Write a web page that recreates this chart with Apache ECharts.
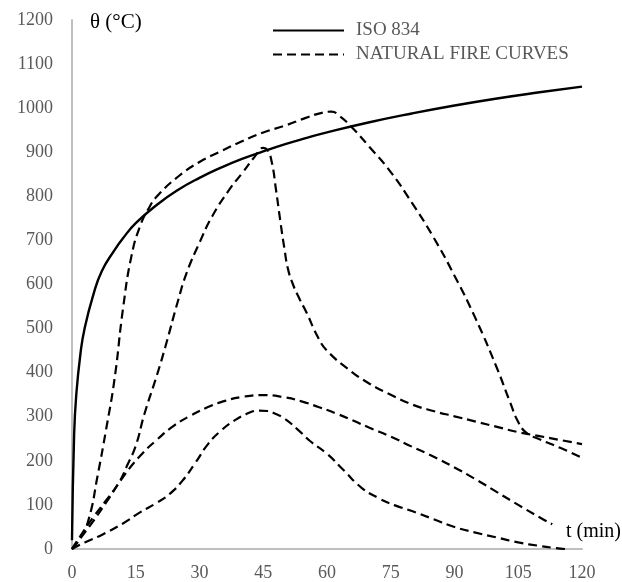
<!DOCTYPE html>
<html>
<head>
<meta charset="utf-8">
<script src="https://cdn.jsdelivr.net/npm/echarts@6/dist/echarts.min.js"></script>
<style>
  html, body { margin: 0; padding: 0; background: #fff; }
  #main { width: 622px; height: 582px; }
</style>
</head>
<body>
<div id="main"></div>
<script>
// t (min), theta (°C) pairs
var isoCurve = [[0,20],[0.5,260],[1,349],[2,444],[3,502],[5,576],[7,630],[10,678],[12,705],[15,739],
    [20,781],[25,815],[30,842],[35,865],[40,885],[45,902],[50,918],[55,932],[60,945],[70,968],
    [80,988],[90,1006],[100,1022],[110,1036],[120,1049]];

var fire1 = [[0,0],[2,25],[4,70],[6,165],[8,270],[10,385],[12,545],[14,665],[16,732],[18,772],
    [20,800],[25,845],[30,878],[35,902],[40,925],[45,945],[50,960],[55,978],[59,990],[61,992],
    [63,982],[66,955],[70,912],[75,855],[80,785],[85,708],[90,620],[95,522],[100,410],[103,335],
    [105,288],[107,263],[110,249],[115,229],[120,207]];

var fire2 = [[0,0],[2,30],[5,72],[8,110],[11,150],[13,190],[15,234],[17,305],[20,395],[22,460],
    [25,565],[27,627],[30,695],[33,755],[37,815],[40,852],[43,890],[45,910],[46,905],[47,878],
    [48,815],[49,745],[50,680],[50.8,636],[52,600],[53.6,566],[55,540],[58,478],[60,450],[65,408],
    [70,375],[75,350],[80,328],[85,313],[90,301],[95,289],[100,277],[105,265],[110,256],[115,247],
    [120,238]];

var fire3 = [[0,0],[4,50],[8,105],[12,163],[16,211],[20,248],[24,280],[28,303],[32,322],[36,336],
    [40,345],[45,349],[50,344],[54,335],[58,322],[62,308],[66,292],[70,275],[75,255],[80,232],
    [85,210],[90,185],[95,158],[100,129],[105,100],[110,72],[113,56]];

var fire4 = [[0,0],[3,15],[7,32],[12,58],[16,83],[20,105],[23,125],[26,155],[29,195],[32,238],
    [35,268],[38,290],[41,306],[44,314],[46,313],[48,306],[50,296],[53,272],[56,245],[60,216],
    [64,178],[68,140],[72,116],[76,99],[80,86],[85,68],[90,50],[95,37],[100,26],[105,15],
    [110,7],[113,3],[116,0]];

var seriesNames = ['ISO 834', 'NATURAL FIRE CURVES'];

var dom = document.getElementById('main');
var myChart = echarts.init(dom);

var labelFont = {fontFamily: 'Liberation Serif', fontSize: 18, color: '#595959'};
var dashStyle = {color: '#000', width: 2.2, type: [9, 5]};

function fireSeries(d) {
    return {
        name: seriesNames[1],
        type: 'line',
        data: d,
        symbol: 'none',
        smooth: 0.5,
        lineStyle: dashStyle,
        itemStyle: {color: '#000'},
        z: 3
    };
}

var option = {
    animation: false,
    backgroundColor: '#fff',
    title: [
        {
            text: 'θ (°C)',
            left: 85,
            top: 7,
            textStyle: {fontFamily: 'Liberation Serif', fontSize: 21, fontWeight: 'normal', color: '#000'}
        },
        {
            text: 't (min)',
            left: 561,
            top: 517,
            textStyle: {fontFamily: 'Liberation Serif', fontSize: 20, fontWeight: 'normal', color: '#000'}
        }
    ],
    legend: {
        data: seriesNames,
        orient: 'vertical',
        left: 272,
        top: 21,
        padding: 0,
        itemWidth: 71,
        itemHeight: 14,
        itemGap: 5,
        itemStyle: {opacity: 0},
        textStyle: {fontFamily: 'Liberation Serif', fontSize: 19, lineHeight: 19, color: '#595959', padding: [0, 0, 0, 7]}
    },
    grid: {
        left: 72,
        right: 40,
        top: 20,
        bottom: 32
    },
    xAxis: {
        type: 'value',
        min: 0,
        max: 120,
        interval: 15,
        axisLine: {show: true, lineStyle: {color: '#bfbfbf', width: 2}},
        axisTick: {show: false},
        splitLine: {show: false},
        axisLabel: Object.assign({margin: 15}, labelFont)
    },
    yAxis: {
        type: 'value',
        min: 0,
        max: 1200,
        interval: 100,
        axisLine: {show: true, lineStyle: {color: '#bfbfbf', width: 2}},
        axisTick: {show: false},
        splitLine: {show: false},
        axisLabel: Object.assign({margin: 19, formatter: function (v) { return String(v); }}, labelFont)
    },
    series: [
        {
            name: seriesNames[0],
            type: 'line',
            data: isoCurve,
            symbol: 'none',
            smooth: 0.5,
            lineStyle: {color: '#000', width: 2.4},
            itemStyle: {color: '#000'},
            z: 4
        },
        fireSeries(fire1),
        fireSeries(fire2),
        fireSeries(fire3),
        fireSeries(fire4)
    ]
};

if (option && typeof option === 'object') {
    myChart.setOption(option, true);
}
</script>
</body>
</html>
